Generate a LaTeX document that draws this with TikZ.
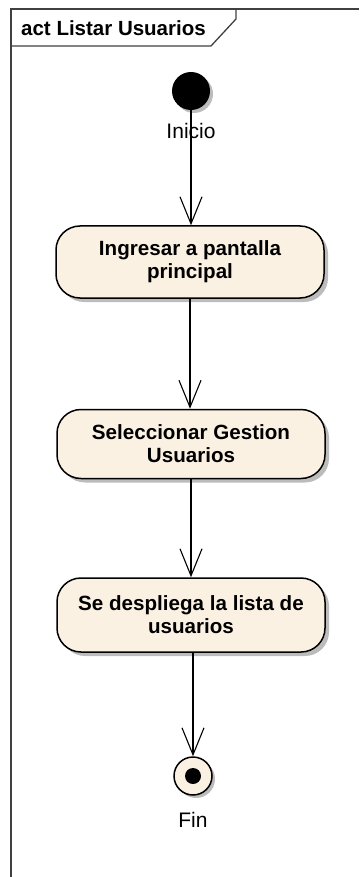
\documentclass[tikz,border=0pt]{standalone}
\usepackage{fontspec}
\setmainfont{Liberation Sans}
\usetikzlibrary{
    arrows.meta,
    shadows,
    positioning
}
\definecolor{actfill}{RGB}{251,241,227}
\definecolor{shadowgray}{RGB}{188,188,188}
\tikzset{
    frame/.style={draw=black!75, line width=1.3pt},
    action/.style={draw, line width=1.5pt, rounded corners=24pt, fill=actfill,
        minimum width=268pt, minimum height=72pt, align=center,
        font=\bfseries\fontsize{20.6}{23}\selectfont,
        drop shadow={shadow xshift=4pt, shadow yshift=-4pt, fill=shadowgray, opacity=1}},
    initial/.style={circle, fill=black, minimum size=38pt, inner sep=0pt,
        drop shadow={shadow xshift=3pt, shadow yshift=-3pt, fill=shadowgray, opacity=1}},
    final/.style={circle, draw, line width=1.5pt, fill=actfill, minimum size=38pt, inner sep=0pt,
        drop shadow={shadow xshift=3pt, shadow yshift=-3pt, fill=shadowgray, opacity=1}},
    flow/.style={-{Straight Barb[length=27pt, width=22pt]}, line width=1.1pt}
}

\begin{document}
\begin{tikzpicture}[x=1pt, y=-1pt, font=\fontsize{21}{24}\selectfont]
    \useasboundingbox (0,0) rectangle (359,877);
    % frame and title tab
    \draw[frame] (359,9) -- (11,9) -- (11,877);
    \draw[frame] (11,46) -- (211,46) -- (236,19) -- (236,9);
    \node[anchor=base west, inner sep=0pt, font=\bfseries\fontsize{20.5}{23}\selectfont] (titulo) at (21,36) {act Listar Usuarios};
    % nodes
    \node[initial] (inicio) at (191,91) {};
    \node (lblinicio) at (191,131) {Inicio};
    \node[action] (ingresar) at (190,262) {Ingresar a pantalla\\principal};
    \node[action, minimum height=69pt] (seleccionar) at (191,444) {Seleccionar Gestion\\Usuarios};
    \node[action, minimum height=74pt] (despliega) at (191,615) {Se despliega la lista de\\usuarios};
    \node[final] (fin) at (193,776) {};
    \fill (fin) circle (8pt);
    \node (lblfin) at (193,820) {Fin};
    % flows
    \draw[flow] (inicio) -- (inicio |- ingresar.north);
    \draw[flow] (ingresar) -- (ingresar |- seleccionar.north);
    \draw[flow] (seleccionar) -- (seleccionar |- despliega.north);
    \draw[flow] (despliega.south -| fin) -- (fin);
\end{tikzpicture}
\end{document}
